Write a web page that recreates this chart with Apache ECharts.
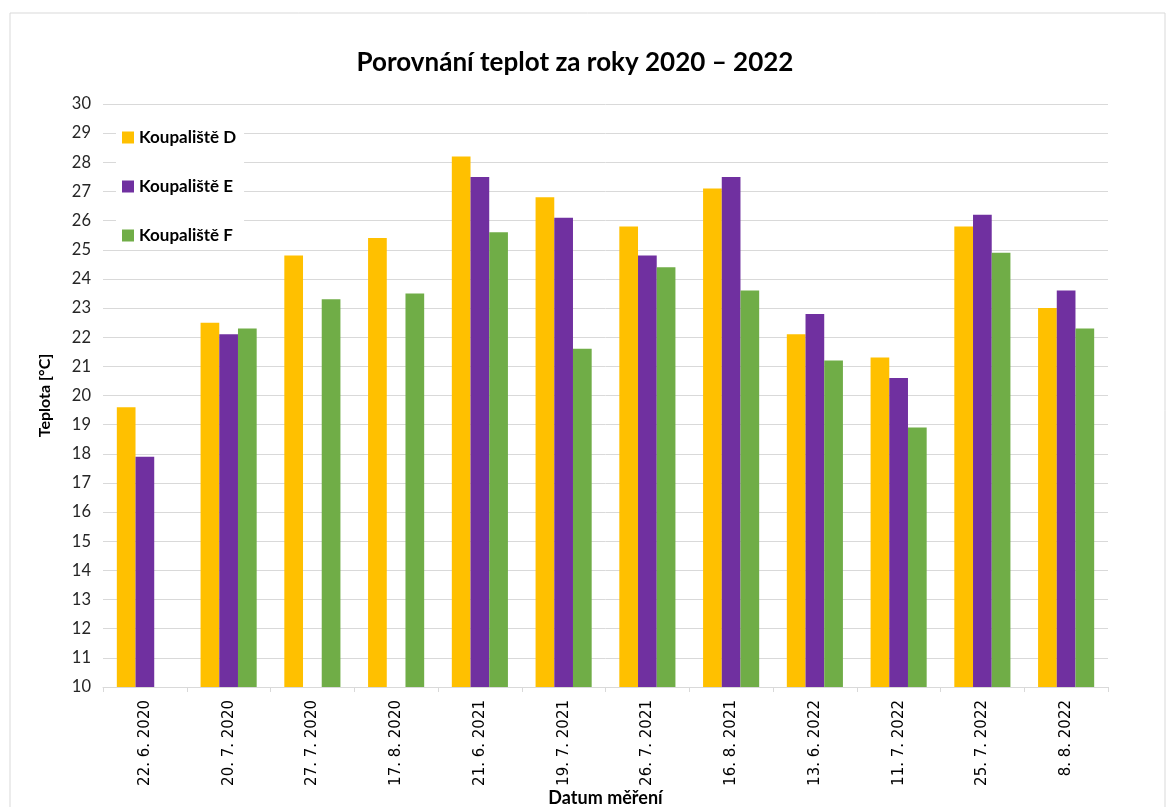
<!DOCTYPE html>
<html>
<head>
<meta charset="utf-8">
<script src="https://cdn.jsdelivr.net/npm/echarts@6/dist/echarts.min.js"></script>
<style>
  html, body { margin: 0; padding: 0; background: #fff; }
  #main { width: 1170px; height: 807px; }
</style>
</head>
<body>
<div id="main"></div>
<script>
var dates = ['22. 6. 2020', '20. 7. 2020', '27. 7. 2020', '17. 8. 2020',
             '21. 6. 2021', '19. 7. 2021', '26. 7. 2021', '16. 8. 2021',
             '13. 6. 2022', '11. 7. 2022', '25. 7. 2022', '8. 8. 2022'];
var koupalisteD = [19.6, 22.5, 24.8, 25.4, 28.2, 26.8, 25.8, 27.1, 22.1, 21.3, 25.8, 23.0];
var koupalisteE = [17.9, 22.1, null, null, 27.5, 26.1, 24.8, 27.5, 22.8, 20.6, 26.2, 23.6];
var koupalisteF = [null, 22.3, 23.3, 23.5, 25.6, 21.6, 24.4, 23.6, 21.2, 18.9, 24.9, 22.3];

var chartObj = echarts.init(document.getElementById('main'));

var font = 'Lato, "Open Sans", sans-serif';

function bar(name, data, color) {
    return {
        name: name,
        type: 'bar',
        data: data,
        barGap: '0%',
        barCategoryGap: '33%',
        itemStyle: { color: color }
    };
}

var chartOpt = {
    animation: false,
    textStyle: { fontFamily: font },
    graphic: [{
        type: 'rect',
        shape: { x: 10, y: 13, width: 1155, height: 820 },
        style: { fill: 'none', stroke: '#d9d9d9', lineWidth: 1 },
        silent: true
    }],
    title: {
        text: 'Porovnání teplot za roky 2020 – 2022',
        left: 570,
        textAlign: 'center',
        top: 45,
        textStyle: { fontFamily: font, fontSize: 26, fontWeight: 'bold', color: '#000' }
    },
    legend: {
        orient: 'vertical',
        left: 116,
        top: 123,
        itemGap: 32,
        itemWidth: 12,
        itemHeight: 12,
        icon: 'rect',
        backgroundColor: '#fff',
        padding: [6, 8, 6, 6],
        textStyle: { fontFamily: font, fontSize: 17, fontWeight: 'bold', color: '#000' },
        data: ['Koupaliště D', 'Koupaliště E', 'Koupaliště F']
    },
    grid: {
        left: 103,
        right: 62,
        top: 104,
        bottom: 120,
        outerBoundsMode: 'none',
        containLabel: false
    },
    xAxis: {
        type: 'category',
        data: dates,
        name: 'Datum měření',
        nameLocation: 'middle',
        nameGap: 102,
        nameMoveOverlap: false,
        nameTextStyle: { fontFamily: font, fontSize: 18, fontWeight: 'bold', color: '#000' },
        axisLine: { lineStyle: { color: '#d9d9d9' } },
        axisTick: { show: true, length: 5, lineStyle: { color: '#d9d9d9' } },
        axisLabel: {
            rotate: 90,
            interval: 0,
            margin: 13,
            fontFamily: '"DejaVu Sans", sans-serif',
            fontSize: 15,
            color: '#000'
        }
    },
    yAxis: {
        type: 'value',
        min: 10,
        max: 30,
        interval: 1,
        name: 'Teplota [°C]',
        nameLocation: 'middle',
        nameRotate: 90,
        nameGap: 50,
        nameTextStyle: { fontFamily: font, fontSize: 16, fontWeight: 'bold', color: '#000' },
        axisLine: { show: false },
        axisTick: { show: false },
        axisLabel: { fontFamily: font, fontSize: 16.5, color: '#262626', margin: 12 },
        splitLine: { lineStyle: { color: '#d9d9d9', width: 1 } }
    },
    series: [
        bar('Koupaliště D', koupalisteD, '#FFC000'),
        bar('Koupaliště E', koupalisteE, '#7030A0'),
        bar('Koupaliště F', koupalisteF, '#70AD47')
    ]
};

chartObj.setOption(chartOpt);
</script>
</body>
</html>
